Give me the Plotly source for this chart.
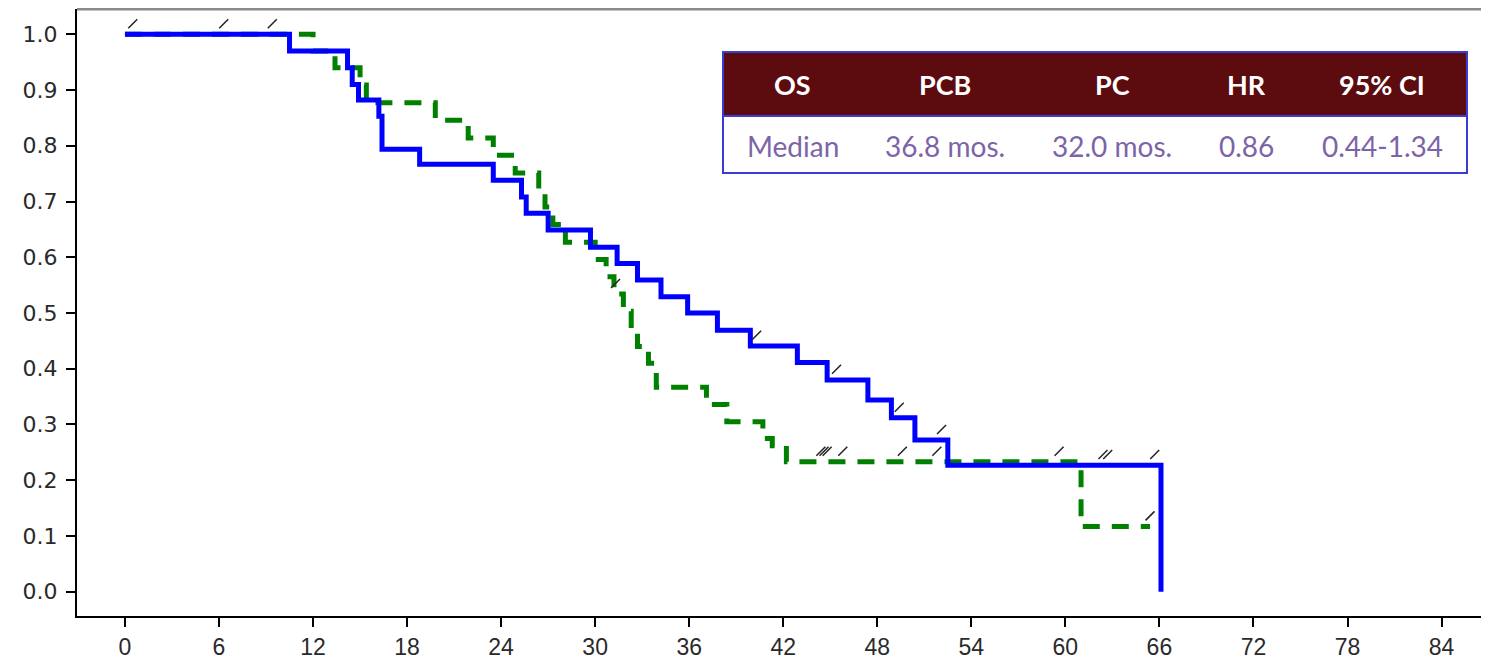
import numpy as np
import plotly.graph_objects as go

# ---------------- data ----------------
x_ticks = [0, 6, 12, 18, 24, 30, 36, 42, 48, 54, 60, 66, 72, 78, 84]
y_ticks = [0.0, 0.1, 0.2, 0.3, 0.4, 0.5, 0.6, 0.7, 0.8, 0.9, 1.0]

# PCB arm (solid blue)
pcb_time = [0, 10.5, 14.2, 14.5, 14.9, 16.2, 16.4, 18.8, 23.5, 25.3, 25.6, 27.0, 29.7,
            31.4, 32.7, 34.2, 35.9, 37.8, 39.9, 42.9, 44.8, 47.4, 48.9, 50.4, 52.5, 66.1]
pcb_surv = [1.0, 0.970, 0.940, 0.910, 0.882, 0.853, 0.794, 0.767, 0.738, 0.708, 0.679, 0.649, 0.618,
            0.589, 0.559, 0.529, 0.500, 0.469, 0.441, 0.411, 0.380, 0.344, 0.312, 0.272, 0.227, 0.0]
pcb_censor = [0.5, 6.3, 9.4, 40.3, 45.4, 49.4, 52.1, 62.4, 62.7, 65.7]

# PC arm (dashed green)
pc_time = [0, 12.0, 13.4, 15.0, 15.4, 19.8, 21.9, 23.5, 24.9, 26.4, 26.8, 27.3, 28.1, 30.0,
           30.7, 31.2, 31.8, 32.3, 32.7, 33.4, 33.9, 37.1, 38.4, 40.7, 41.3, 42.2, 61.0, 65.4]
pc_surv = [1.0, 0.970, 0.940, 0.909, 0.877, 0.846, 0.814, 0.783, 0.751, 0.720, 0.690, 0.659, 0.627, 0.596,
           0.565, 0.534, 0.503, 0.472, 0.440, 0.410, 0.367, 0.336, 0.305, 0.275, 0.262, 0.233, 0.117, 0.117]
pc_censor = [31.3, 44.4, 44.6, 44.8, 45.8, 49.6, 51.8, 59.6, 65.4]

table_header = ["OS", "PCB", "PC", "HR", "95% CI"]
table_row = ["Median", "36.8 mos.", "32.0 mos.", "0.86", "0.44-1.34"]

# ---------------- helpers ----------------
def step_value(times, surv, t):
    idx = np.searchsorted(np.asarray(times), t, side="right") - 1
    return np.asarray(surv)[idx]

OFF = 8  # page body margin
W, H = 1481, 654
ML, MR, MT, MB = 69, 2, 1, 46
PW, PH = W - ML - MR, H - MT - MB

def px(xp):  # page x -> paper
    return (xp - OFF - ML) / PW

def py(yp):  # page y -> paper
    return (OFF + H - MB - yp) / PH

fig = go.Figure()

fig.add_trace(go.Scatter(
    x=pc_time, y=pc_surv, mode="lines", line_shape="hv",
    line=dict(color="#008000", width=5, dash="17px,12px"), showlegend=False))
fig.add_trace(go.Scatter(
    x=pcb_time, y=pcb_surv, mode="lines", line_shape="hv",
    line=dict(color="#0000FF", width=5), showlegend=False))

mark_off = 0.019
for cens, tt, ss in [(pc_censor, pc_time, pc_surv), (pcb_censor, pcb_time, pcb_surv)]:
    yv = [float(step_value(tt, ss, c)) + mark_off for c in cens]
    fig.add_trace(go.Scatter(
        x=cens, y=yv, mode="markers", showlegend=False,
        marker=dict(symbol="line-ne", size=9, color="#222222",
                    line=dict(color="#222222", width=1.5))))

# ---------------- table ----------------
tx0, tx1 = 723, 1467
ty0, ty1, ty2 = 52, 116, 173
border = "#3B3BD6"
fig.add_shape(type="rect", xref="paper", yref="paper", layer="above",
              x0=px(tx0), x1=px(tx1), y0=py(ty1), y1=py(ty0),
              fillcolor="#5C0B0E", line=dict(width=0))
fig.add_shape(type="rect", xref="paper", yref="paper", layer="above",
              x0=px(tx0), x1=px(tx1), y0=py(ty2), y1=py(ty1),
              fillcolor="white", line=dict(width=0))
fig.add_shape(type="rect", xref="paper", yref="paper", layer="above",
              x0=px(tx0), x1=px(tx1), y0=py(ty2), y1=py(ty0),
              fillcolor="rgba(0,0,0,0)", line=dict(color=border, width=2))
fig.add_shape(type="line", xref="paper", yref="paper", layer="above",
              x0=px(tx0), x1=px(tx1), y0=py(ty1), y1=py(ty1),
              line=dict(color=border, width=2))

col_centers = [793, 945, 1112, 1246, 1382]
for cx, h, r in zip(col_centers, table_header, table_row):
    fig.add_annotation(xref="paper", yref="paper", x=px(cx), y=py(84),
                       text="<b>%s</b>" % h, showarrow=False,
                       xanchor="center", yanchor="middle",
                       font=dict(family="Lato", size=27, color="white"))
    fig.add_annotation(xref="paper", yref="paper", x=px(cx), y=py(146),
                       text=r, showarrow=False,
                       xanchor="center", yanchor="middle",
                       font=dict(family="Lato", size=28, color="#7D64A8"))

# frame: top gray, right light gray
fig.add_shape(type="line", xref="paper", yref="paper", x0=0, x1=1, y0=1, y1=1,
              line=dict(color="#8a8a8a", width=3))
fig.add_shape(type="line", xref="paper", yref="paper", x0=1, x1=1, y0=0, y1=1,
              line=dict(color="#c8c8c8", width=1.5))

fig.update_layout(
    width=W, height=H,
    margin=dict(l=ML, r=MR, t=MT, b=MB, autoexpand=False),
    paper_bgcolor="white", plot_bgcolor="white",
    xaxis=dict(range=[-3.06, 86.9], tickvals=x_ticks, ticktext=[str(v) for v in x_ticks],
               showgrid=False, zeroline=False, showline=True, linecolor="black", linewidth=2,
               ticks="outside", ticklen=9, tickwidth=2, tickcolor="black", automargin=False,
               tickfont=dict(family="Liberation Sans", size=23, color="#2a2a2a"),
               ticklabelstandoff=0),
    yaxis=dict(range=[-0.0436, 1.0454], tickvals=y_ticks, ticktext=["%.1f" % v for v in y_ticks],
               showgrid=False, zeroline=False, showline=True, linecolor="black", linewidth=2,
               ticks="outside", ticklen=9, tickwidth=2, tickcolor="black", automargin=False,
               tickfont=dict(family="DejaVu Sans", size=22, color="#2a2a2a"),
               ticklabelstandoff=4),
)

fig.write_html("out.html")
